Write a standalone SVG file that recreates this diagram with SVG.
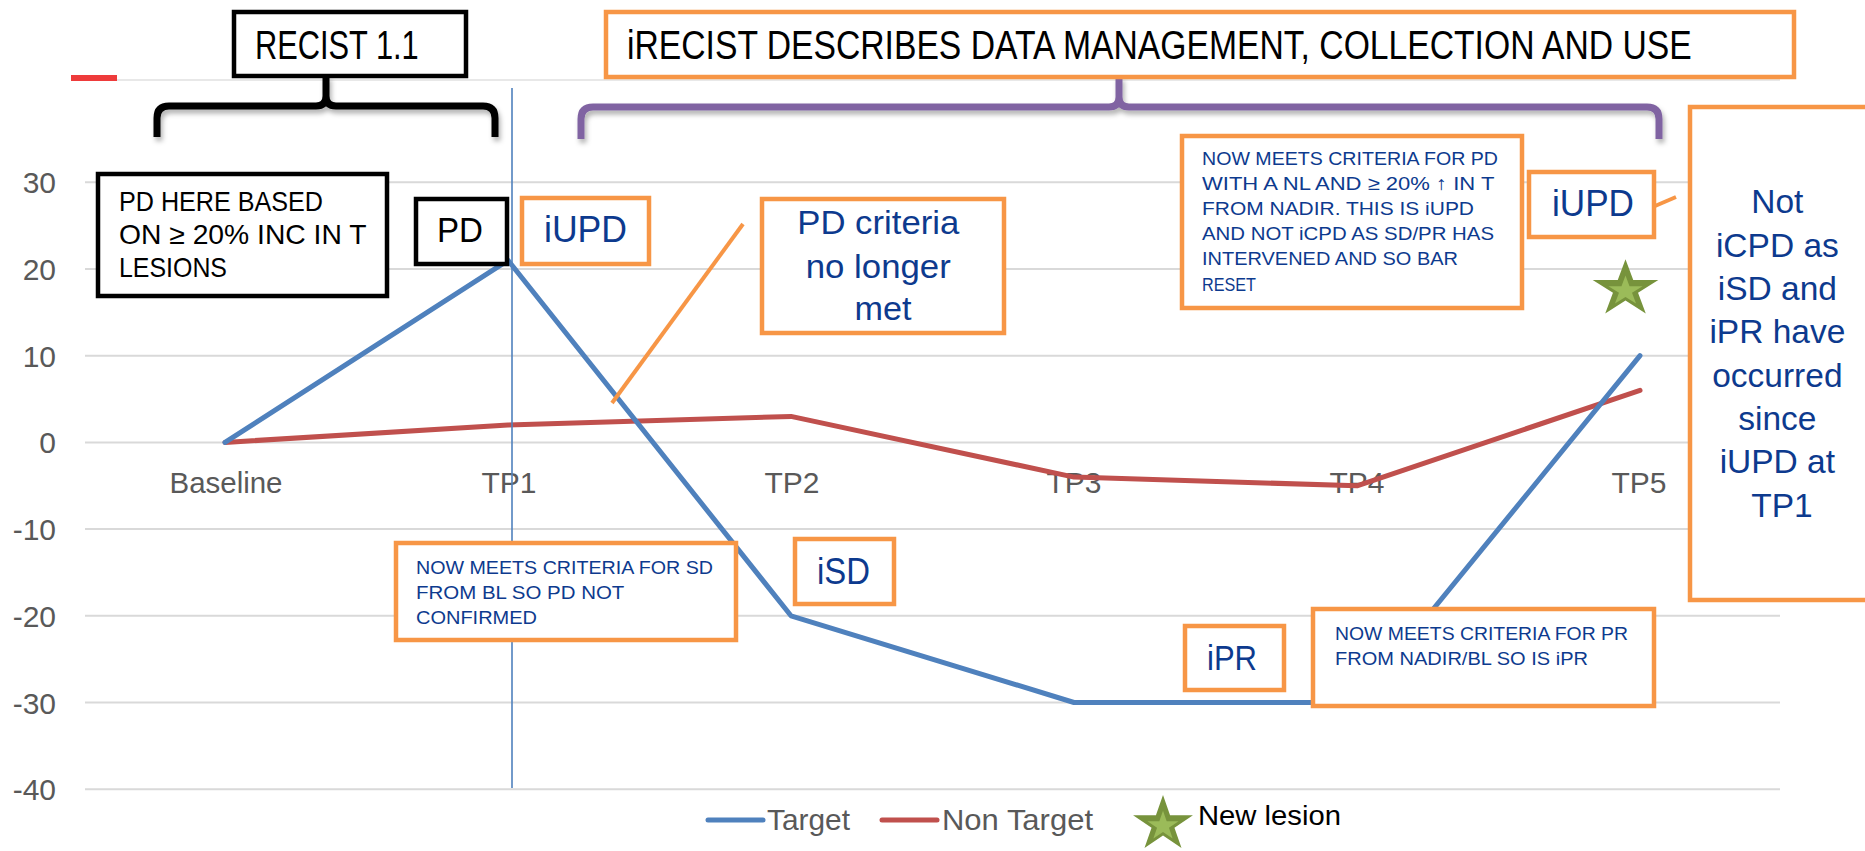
<svg xmlns="http://www.w3.org/2000/svg" width="1865" height="851" viewBox="0 0 1865 851">
  <style>
    .grid { stroke: #d9d9d9; stroke-width: 2; }
    .axis { font-family: "Liberation Sans", Arial, sans-serif; font-size: 30px; fill: #595959; }
    .ylab { text-anchor: end; }
    .cat { text-anchor: middle; }
    .series { fill: none; stroke-width: 5; stroke-linejoin: round; stroke-linecap: round; }
    .target { stroke: #4f81bd; }
    .nontarget { stroke: #c0504d; }
    .obox { fill: #ffffff; stroke: #f79646; stroke-width: 4.5; }
    .kbox { fill: #ffffff; stroke: #000000; stroke-width: 4.5; }
    .txt { font-family: "Liberation Sans", Arial, sans-serif; }
    .navy { fill: #0d3a8e; }
    .black { fill: #000000; }
    .small { font-size: 19px; }
    .mid { text-anchor: middle; }
    .leader { stroke: #f79646; stroke-width: 4; fill: none; }
    .brace { fill: none; stroke-width: 7; stroke-linecap: butt; stroke-linejoin: round; }
  </style>
  <defs>
    <filter id="shadow" x="-5%" y="-30%" width="110%" height="180%">
      <feDropShadow dx="2" dy="4" stdDeviation="2.5" flood-color="#000000" flood-opacity="0.3"/>
    </filter>
    <g id="star">
      <polygon fill="#77933c" points="0,-1 0.2245,-0.309 0.9511,-0.309 0.3633,0.118 0.5878,0.809 0,0.382 -0.5878,0.809 -0.3633,0.118 -0.9511,-0.309 -0.2245,-0.309"/>
      <polygon fill="#9bbb59" transform="translate(0,0.06) scale(0.52)" points="0,-1 0.2245,-0.309 0.9511,-0.309 0.3633,0.118 0.5878,0.809 0,0.382 -0.5878,0.809 -0.3633,0.118 -0.9511,-0.309 -0.2245,-0.309"/>
    </g>
  </defs>

  <rect width="1865" height="851" fill="#ffffff"/>

  <!-- chart frame: gridlines, value axis, categories -->
  <g id="chart-grid">
    <line class="grid" x1="117" y1="80" x2="1780" y2="80" stroke-opacity="0.6"/>
    <line class="grid" x1="85" y1="182.3" x2="1780" y2="182.3"/>
    <line class="grid" x1="85" y1="269" x2="1780" y2="269"/>
    <line class="grid" x1="85" y1="355.7" x2="1780" y2="355.7"/>
    <line class="grid" x1="85" y1="442.4" x2="1780" y2="442.4"/>
    <line class="grid" x1="85" y1="529.1" x2="1780" y2="529.1"/>
    <line class="grid" x1="85" y1="615.8" x2="1780" y2="615.8"/>
    <line class="grid" x1="85" y1="702.5" x2="1780" y2="702.5"/>
    <line class="grid" x1="85" y1="789.2" x2="1780" y2="789.2"/>
    <rect x="71" y="75" width="46" height="6" fill="#ee3b3b"/>
  </g>
  <g id="value-axis" class="axis ylab">
    <text x="56" y="193.3">30</text>
    <text x="56" y="280">20</text>
    <text x="56" y="366.7">10</text>
    <text x="56" y="453.4">0</text>
    <text x="56" y="540.1">-10</text>
    <text x="56" y="626.8">-20</text>
    <text x="56" y="713.5">-30</text>
    <text x="56" y="800.2">-40</text>
  </g>
  <g id="category-axis" class="axis cat">
    <text x="226" y="493" textLength="113" lengthAdjust="spacingAndGlyphs">Baseline</text>
    <text x="509" y="493">TP1</text>
    <text x="792" y="493">TP2</text>
    <text x="1074" y="493">TP3</text>
    <text x="1357" y="493">TP4</text>
    <text x="1639" y="493">TP5</text>
  </g>

  <!-- data series -->
  <g id="series">
    <polyline id="series-nontarget" class="series nontarget" points="225,442.4 508,425.1 791,416.4 1074,477.1 1357,485.8 1640,390.4"/>
    <polyline id="series-target" class="series target" points="225,442.4 508,260.3 791,615.8 1074,702.5 1357,702.5 1640,355.7"/>
  </g>

  <!-- connectors: TP1 marker, braces, leader lines -->
  <g id="connectors">
    <line id="tp1-marker" x1="512" y1="88" x2="512" y2="788" stroke="#4f81bd" stroke-width="1.6"/>
    <path id="brace-recist" class="brace" stroke="#000000" filter="url(#shadow)" d="M157,137 V118 Q157,106 169,106 H316 Q326,106 326,96 V76 M495,137 V118 Q495,106 483,106 H336 Q326,106 326,96"/>
    <path id="brace-irecist" class="brace" stroke="#8064a2" filter="url(#shadow)" d="M581,139 V119 Q581,107 593,107 H1109 Q1119,107 1119,97 V77 M1659,139 V119 Q1659,107 1647,107 H1129 Q1119,107 1119,97"/>
    <line id="leader-pd-criteria" class="leader" x1="612" y1="403" x2="743" y2="224"/>
    <line id="leader-iupd-tp5" class="leader" x1="1655" y1="206" x2="1676" y2="197"/>
  </g>

  <!-- headers -->
  <g id="node-recist">
    <rect class="kbox" x="234" y="12" width="232" height="64"/>
    <text class="txt black" transform="translate(255,59) scale(0.77,1)" font-size="40">RECIST 1.1</text>
  </g>
  <g id="node-irecist">
    <rect class="obox" x="606" y="12" width="1188" height="65"/>
    <text class="txt black" transform="translate(627,59) scale(0.842,1)" font-size="40">iRECIST DESCRIBES DATA MANAGEMENT, COLLECTION AND USE</text>
  </g>

  <!-- annotations around TP1 -->
  <g id="node-pd-here">
    <rect class="kbox" x="98" y="174" width="289" height="122"/>
    <text class="txt black" font-size="28">
      <tspan x="119" y="211" textLength="204" lengthAdjust="spacingAndGlyphs">PD HERE BASED</tspan>
      <tspan x="119" y="243.5" textLength="247" lengthAdjust="spacingAndGlyphs">ON ≥ 20% INC IN T</tspan>
      <tspan x="119" y="277" textLength="108" lengthAdjust="spacingAndGlyphs">LESIONS</tspan>
    </text>
  </g>
  <g id="node-pd">
    <rect class="kbox" x="416" y="199" width="91" height="65"/>
    <text class="txt black" x="437" y="242" font-size="35" textLength="46" lengthAdjust="spacingAndGlyphs">PD</text>
  </g>
  <g id="node-iupd-tp1">
    <rect class="obox" x="522" y="198" width="127" height="66"/>
    <text class="txt navy" x="544" y="242" font-size="36" textLength="83" lengthAdjust="spacingAndGlyphs">iUPD</text>
  </g>
  <g id="node-pd-criteria">
    <rect class="obox" x="762" y="199" width="242" height="134"/>
    <text class="txt navy mid" font-size="34">
      <tspan x="883" y="234" textLength="162" lengthAdjust="spacingAndGlyphs">PD criteria</tspan>
      <tspan x="883" y="278" textLength="145" lengthAdjust="spacingAndGlyphs">no longer</tspan>
      <tspan x="883" y="319.5" textLength="57" lengthAdjust="spacingAndGlyphs">met</tspan>
    </text>
  </g>

  <!-- annotations around TP2 -->
  <g id="node-sd-note">
    <rect class="obox" x="396" y="543" width="340" height="97"/>
    <text class="txt navy small">
      <tspan x="416" y="574" textLength="297" lengthAdjust="spacingAndGlyphs">NOW MEETS CRITERIA FOR SD</tspan>
      <tspan x="416" y="599" textLength="208" lengthAdjust="spacingAndGlyphs">FROM BL SO PD NOT</tspan>
      <tspan x="416" y="623.5" textLength="121" lengthAdjust="spacingAndGlyphs">CONFIRMED</tspan>
    </text>
  </g>
  <g id="node-isd">
    <rect class="obox" x="795" y="539" width="99" height="65"/>
    <text class="txt navy" x="817" y="584" font-size="36" textLength="53" lengthAdjust="spacingAndGlyphs">iSD</text>
  </g>

  <!-- annotations around TP4 -->
  <g id="node-ipr">
    <rect class="obox" x="1185" y="626" width="99" height="64"/>
    <text class="txt navy" x="1207" y="670" font-size="35" textLength="50" lengthAdjust="spacingAndGlyphs">iPR</text>
  </g>
  <g id="node-pr-note">
    <rect class="obox" x="1313" y="609" width="341" height="97"/>
    <text class="txt navy small">
      <tspan x="1335" y="640" textLength="293" lengthAdjust="spacingAndGlyphs">NOW MEETS CRITERIA FOR PR</tspan>
      <tspan x="1335" y="665" textLength="253" lengthAdjust="spacingAndGlyphs">FROM NADIR/BL SO IS iPR</tspan>
    </text>
  </g>

  <!-- annotations around TP5 -->
  <g id="node-pd-nadir-note">
    <rect class="obox" x="1182" y="136" width="340" height="172"/>
    <text class="txt navy small">
      <tspan x="1202" y="165" textLength="296" lengthAdjust="spacingAndGlyphs">NOW MEETS CRITERIA FOR PD</tspan>
      <tspan x="1202" y="190" textLength="292" lengthAdjust="spacingAndGlyphs">WITH A NL AND ≥ 20% ↑  IN T</tspan>
      <tspan x="1202" y="215" textLength="272" lengthAdjust="spacingAndGlyphs">FROM NADIR.  THIS IS iUPD</tspan>
      <tspan x="1202" y="240" textLength="292" lengthAdjust="spacingAndGlyphs">AND NOT iCPD AS SD/PR HAS</tspan>
      <tspan x="1202" y="265" textLength="256" lengthAdjust="spacingAndGlyphs">INTERVENED AND SO BAR</tspan>
      <tspan x="1202" y="290.5" textLength="54" lengthAdjust="spacingAndGlyphs">RESET</tspan>
    </text>
  </g>
  <g id="node-iupd-tp5">
    <rect class="obox" x="1529" y="172" width="125" height="65"/>
    <text class="txt navy" x="1552" y="216" font-size="36" textLength="82" lengthAdjust="spacingAndGlyphs">iUPD</text>
  </g>
  <g id="node-new-lesion-tp5">
    <use href="#star" transform="translate(1625.5,289.2) scale(34.5,29.9)"/>
  </g>
  <g id="node-not-icpd">
    <rect class="obox" x="1690" y="107" width="190" height="493"/>
    <text class="txt navy mid" font-size="33.5">
      <tspan x="1782" y="213">Not</tspan>
      <tspan x="1782" y="256.5">iCPD as</tspan>
      <tspan x="1782" y="300">iSD and</tspan>
      <tspan x="1782" y="343">iPR have</tspan>
      <tspan x="1782" y="386.5">occurred</tspan>
      <tspan x="1782" y="430">since</tspan>
      <tspan x="1782" y="473">iUPD at</tspan>
      <tspan x="1782" y="516.5">TP1</tspan>
    </text>
  </g>

  <!-- legend -->
  <g id="legend">
    <line x1="708" y1="820" x2="763" y2="820" stroke="#4f81bd" stroke-width="5" stroke-linecap="round"/>
    <text class="txt" x="767" y="830" font-size="29" fill="#595959" textLength="83" lengthAdjust="spacingAndGlyphs">Target</text>
    <line x1="882" y1="820" x2="937" y2="820" stroke="#c0504d" stroke-width="5" stroke-linecap="round"/>
    <text class="txt" x="942" y="830" font-size="29" fill="#595959" textLength="151" lengthAdjust="spacingAndGlyphs">Non Target</text>
    <use href="#star" transform="translate(1163,824.3) scale(31.5,29.3)"/>
    <text class="txt black" x="1198" y="825" font-size="28" textLength="143" lengthAdjust="spacingAndGlyphs">New lesion</text>
  </g>
</svg>
